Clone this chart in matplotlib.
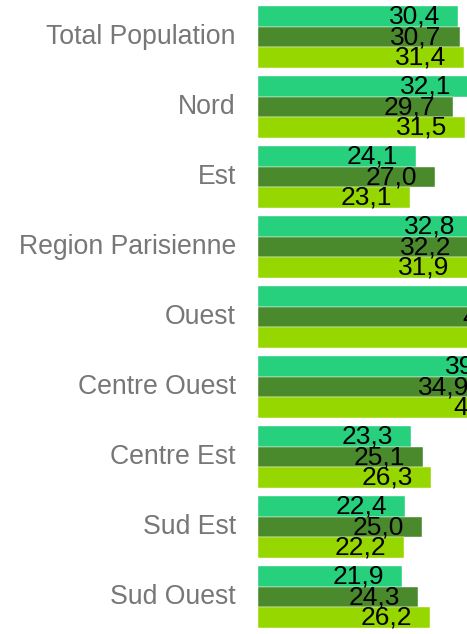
import numpy as np
import matplotlib.pyplot as plt

plt.rcParams['font.family'] = ['Liberation Sans', 'DejaVu Sans']

regions = ["Total Population", "Nord", "Est", "Region Parisienne", "Ouest",
           "Centre Ouest", "Centre Est", "Sud Est", "Sud Ouest"]
serie_a = [30.4, 32.1, 24.1, 32.8, 43.5, 39.0, 23.3, 22.4, 21.9]
serie_b = [30.7, 29.7, 27.0, 32.2, 41.6, 34.9, 25.1, 25.0, 24.3]
serie_c = [31.4, 31.5, 23.1, 31.9, 43.0, 40.3, 26.3, 22.2, 26.2]
colors = ["#26d07c", "#4a8a2c", "#97d700"]

fig = plt.figure(figsize=(4.67, 6.34), dpi=100)
ax = fig.add_axes([258 / 467, 2 / 634, 209 / 467, 630 / 634])

y = np.arange(len(regions))
h = 0.293
for i, (vals, c) in enumerate(zip([serie_a, serie_b, serie_c], colors)):
    pos = y + (i - 1) * h
    ax.barh(pos, vals, height=h, color=c, edgecolor="white", linewidth=0.3)
    for p, v in zip(pos, vals):
        ax.annotate(f"{v:.1f}".replace(".", ","), (v, p), xytext=(-13, 0),
                    textcoords="offset points", ha="right", va="center",
                    fontsize=19, color="black", annotation_clip=False)

ax.set_xlim(0, 31.8)
ax.set_ylim(len(regions) - 0.5, -0.5)
ax.set_yticks(y)
ax.set_yticklabels(regions, fontsize=19.2, color="#777777")
for lab in ax.get_yticklabels():
    lab.set_va("center")
ax.tick_params(axis="y", length=0, pad=16)
ax.set_xticks([])
for s in ax.spines.values():
    s.set_visible(False)

fig.savefig("out.png", dpi=100)
